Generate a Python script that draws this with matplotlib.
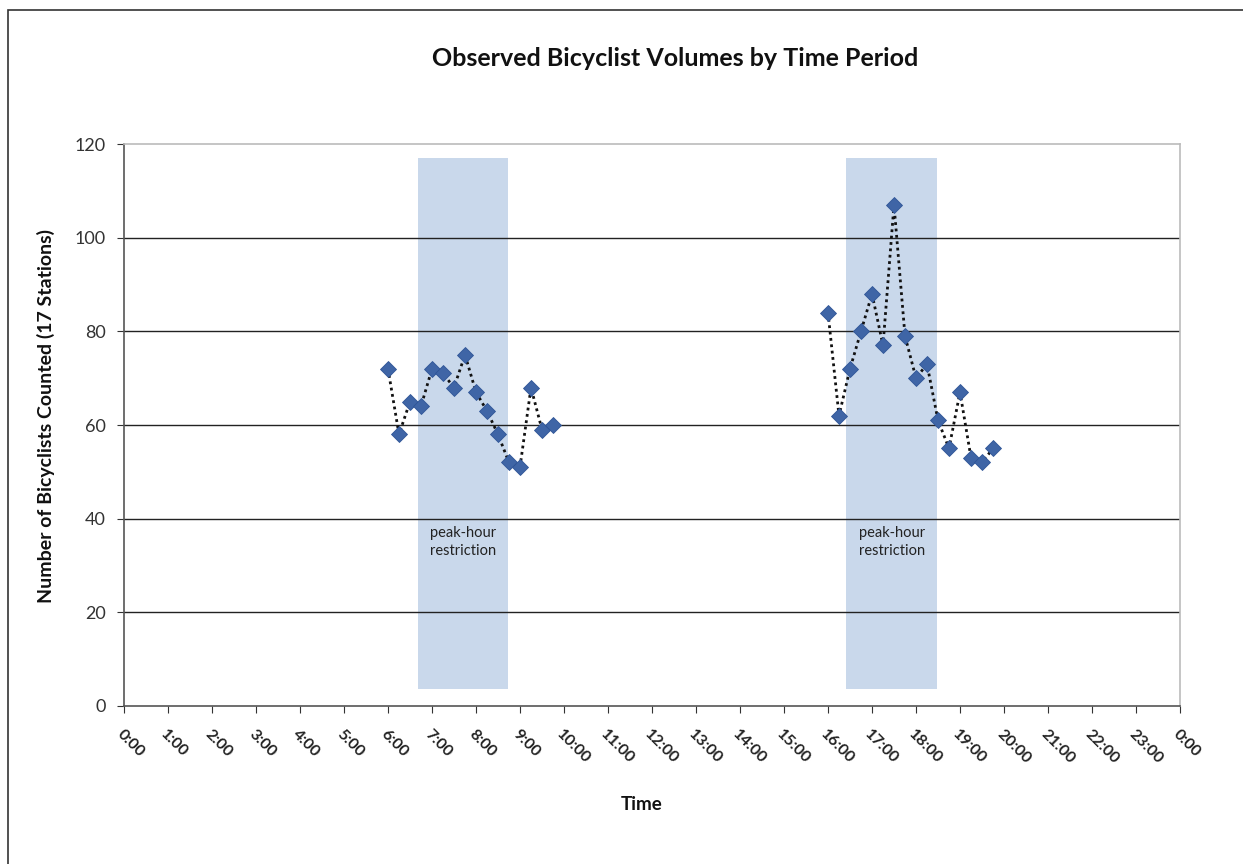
import matplotlib
matplotlib.use("Agg")
import matplotlib.pyplot as plt
from matplotlib.patches import Rectangle

plt.rcParams['font.family'] = ['Lato', 'DejaVu Sans']

am_times = ["6:00", "6:15", "6:30", "6:45", "7:00", "7:15", "7:30", "7:45",
            "8:00", "8:15", "8:30", "8:45", "9:00", "9:15", "9:30", "9:45"]
am_counts = [72, 58, 65, 64, 72, 71, 68, 75, 67, 63, 58, 52, 51, 68, 59, 60]

pm_times = ["16:00", "16:15", "16:30", "16:45", "17:00", "17:15", "17:30", "17:45",
            "18:00", "18:15", "18:30", "18:45", "19:00", "19:15", "19:30", "19:45"]
pm_counts = [84, 62, 72, 80, 88, 77, 107, 79, 70, 73, 61, 55, 67, 53, 52, 55]

# shaded peak-hour restriction bands (start hour, end hour, bottom, top)
bands = [(6.69, 8.73, 3.6, 117), (16.42, 18.47, 3.6, 117)]
band_label = "peak-hour\nrestriction"

tick_labels = [f"{h}:00" for h in range(24)] + ["0:00"]


def to_hours(t):
    h, m = t.split(":")
    return int(h) + int(m) / 60.0


fig = plt.figure(figsize=(12.43, 8.64), dpi=100)
ax = fig.add_axes([124 / 1243, 1 - 706 / 864, (1180 - 124) / 1243, (706 - 144) / 864])

# figure border (left/top visible)
fig.patches.append(Rectangle((8 / 1243, -0.1), 1.2, (864 - 10) / 864 + 0.1,
                             transform=fig.transFigure, fill=False,
                             edgecolor='#333333', linewidth=1.2))

for x0, x1, y0, y1 in bands:
    ax.add_patch(Rectangle((x0, y0), x1 - x0, y1 - y0, facecolor='#c9d8eb',
                           edgecolor='none', zorder=1))
    ax.text((x0 + x1) / 2, 35.0, band_label, ha='center', va='center',
            fontsize=10.5, color='#222222', linespacing=1.3, zorder=2)

for y in [20, 40, 60, 80, 100]:
    ax.axhline(y, color='#222222', linewidth=1.0, zorder=1.5)

for times, counts in [(am_times, am_counts), (pm_times, pm_counts)]:
    xs = [to_hours(t) for t in times]
    ax.plot(xs, counts, linestyle=(0, (1, 1.3)), color='#111111', linewidth=2.0,
            zorder=3)
    ax.plot(xs, counts, linestyle='none', marker='D', markersize=8.5,
            markerfacecolor='#3f65a6', markeredgecolor='#2f5597',
            markeredgewidth=0.6, zorder=4)

ax.set_xlim(0, 24)
ax.set_ylim(0, 120)
ax.set_yticks([0, 20, 40, 60, 80, 100, 120])
ax.set_xticks(list(range(25)))
ax.set_xticklabels(tick_labels, rotation=-45, ha='left', va='top',
                   rotation_mode='anchor', fontsize=11.5, fontweight='bold')
ax.tick_params(axis='y', labelsize=13, colors='#333333', length=5, direction='out',
               pad=8)
ax.tick_params(axis='x', colors='#333333', length=5, direction='out', pad=10)
for lab in ax.get_xticklabels():
    lab.set_color('#222222')

ax.spines['left'].set_color('#555555')
ax.spines['bottom'].set_color('#555555')
ax.spines['top'].set_color('#bbbbbb')
ax.spines['right'].set_color('#bbbbbb')
for s in ax.spines.values():
    s.set_linewidth(1.2)

fig.text(675 / 1243, 1 - 58 / 864, "Observed Bicyclist Volumes by Time Period",
         ha='center', va='center', fontsize=18, fontweight='bold', color='#111111')
fig.text(642 / 1243, 1 - 805 / 864, "Time", ha='center', va='center',
         fontsize=13.5, fontweight='bold', color='#111111')
fig.text(46 / 1243, 1 - 416 / 864, "Number of Bicyclists Counted (17 Stations)",
         ha='center', va='center', rotation=90, fontsize=14, fontweight='bold',
         color='#111111')

fig.savefig("out.png", dpi=100, facecolor='white')
